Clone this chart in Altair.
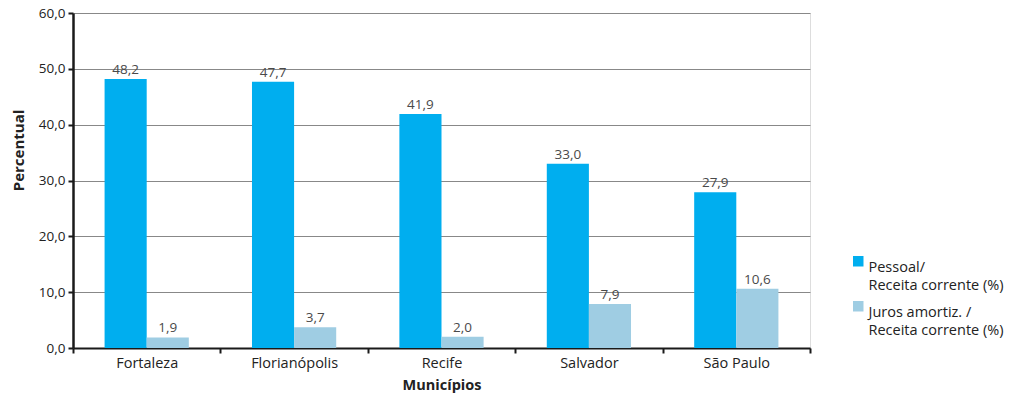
import altair as alt
import pandas as pd

municipios = ["Fortaleza", "Florianópolis", "Recife", "Salvador", "São Paulo"]
pessoal = [48.2, 47.7, 41.9, 33.0, 27.9]
juros = [1.9, 3.7, 2.0, 7.9, 10.6]
series = ["Pessoal/\nReceita corrente (%)", "Juros amortiz. /\nReceita corrente (%)"]
colors = ["#00aeef", "#9fcde3"]

rows = []
for m, p, j in zip(municipios, pessoal, juros):
    rows.append({"mun": m, "serie": series[0], "v": p})
    rows.append({"mun": m, "serie": series[1], "v": j})
df = pd.DataFrame(rows)
df["lbl"] = df["v"].map(lambda v: f"{v:.1f}".replace(".", ","))

FONT = "Open Sans"

x = alt.X("mun:N", sort=municipios, title="Municípios",
          scale=alt.Scale(paddingInner=0, paddingOuter=0),
          axis=alt.Axis(labelAngle=0, tickBand="extent", domainColor="#1a1a1a",
                        domainWidth=2, tickColor="#1a1a1a", tickWidth=2, tickSize=5,
                        labelFont=FONT, labelFontSize=14.5, labelColor="#222",
                        labelPadding=3, titleFont=FONT, titleFontSize=14.5,
                        titleFontWeight="bold", titleColor="#222", titlePadding=9,
                        grid=False))
xo = alt.XOffset("serie:N", sort=series, scale=alt.Scale(paddingOuter=0.75, paddingInner=0))

base = alt.Chart(df)

bars = base.mark_bar().encode(
    x=x, xOffset=xo,
    y=alt.Y("v:Q", title="Percentual",
            scale=alt.Scale(domain=[0, 60], nice=False),
            axis=alt.Axis(values=[0, 10, 20, 30, 40, 50, 60],
                          labelExpr="replace(format(datum.value, '.1f'), '.', ',')",
                          domainColor="#1a1a1a", domainWidth=2.5, tickColor="#1a1a1a",
                          tickWidth=2, tickSize=5, gridColor="#888", gridWidth=1,
                          labelFont=FONT, labelFontSize=13.5, labelColor="#222",
                          labelPadding=3, titleFont=FONT, titleFontSize=15,
                          titleFontWeight="bold", titleColor="#222", titlePadding=12,
                          titleY=137)),
    color=alt.Color("serie:N", sort=series,
                    scale=alt.Scale(domain=series, range=colors),
                    legend=alt.Legend(title=None, orient="none", legendX=778, legendY=241,
                                      symbolType="square", symbolSize=110,
                                      symbolStrokeWidth=0, labelFont=FONT,
                                      labelFontSize=14.5, labelColor="#222",
                                      labelExpr="split(datum.label, '\\n')",
                                      labelBaseline="top", labelOffset=3,
                                      rowPadding=6, labelLimit=220)),
)

texts = base.mark_text(dy=-9, fontSize=13.5, font=FONT, color="#4a4a4a").encode(
    x=x, xOffset=xo, y="v:Q", text="lbl:N"
)

chart = (bars + texts).properties(
    width=737, height=335,
    autosize="none",
    padding={"left": 73, "top": 13, "right": 203, "bottom": 51},
).configure_view(stroke=None).configure(style={"guide-label": {"lineHeight": 18}})

chart.save("out.html", embed_options={"renderer": "svg", "actions": False})
